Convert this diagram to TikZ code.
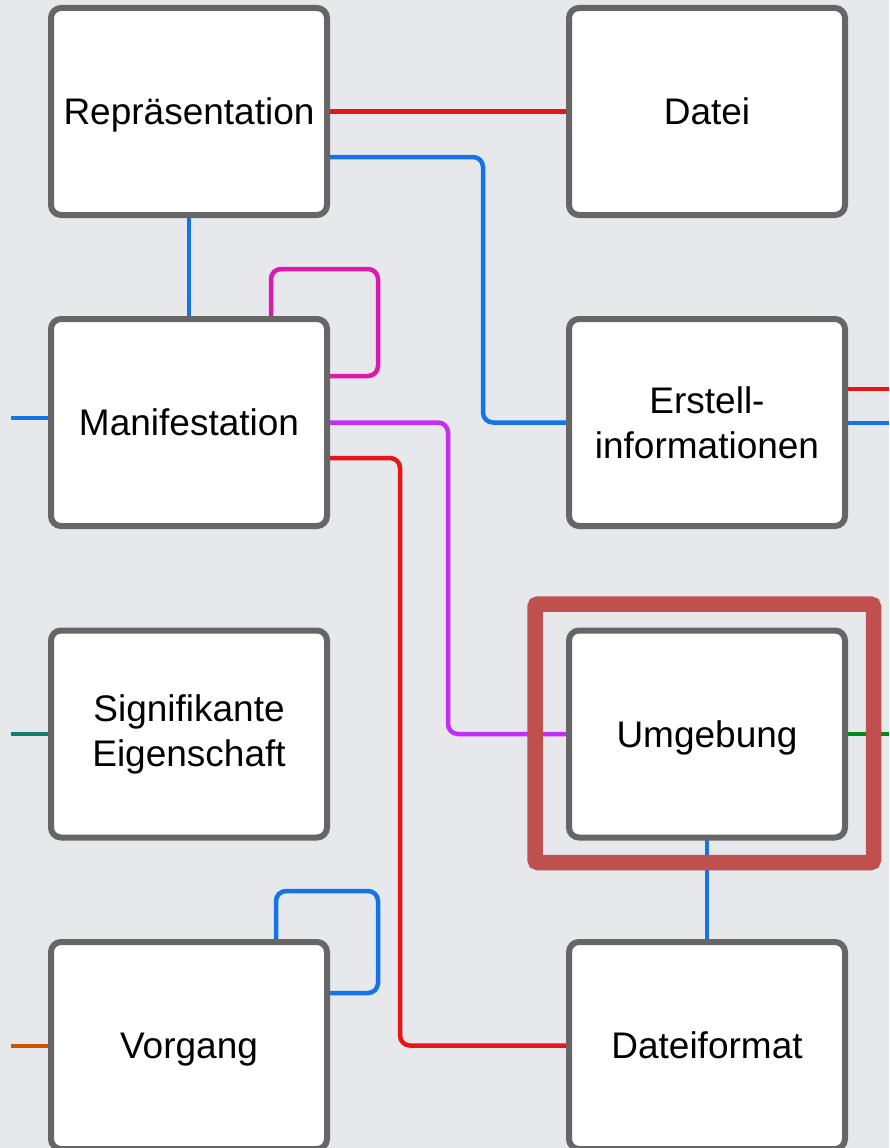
\documentclass[tikz,border=0pt]{standalone}
\usepackage{fontspec}
\setmainfont{Liberation Sans}
\usetikzlibrary{calc}
\definecolor{bgc}{RGB}{230,232,236}
\definecolor{boxgray}{RGB}{102,102,102}
\definecolor{cred}{RGB}{232,20,22}
\definecolor{cblue}{RGB}{20,115,230}
\definecolor{cmagenta}{RGB}{220,25,170}
\definecolor{cpurple}{RGB}{195,45,245}
\definecolor{cteal}{RGB}{15,128,110}
\definecolor{cgreen}{RGB}{0,140,20}
\definecolor{corange}{RGB}{200,85,0}
\definecolor{hlred}{RGB}{192,80,77}
\pgfdeclarelayer{bg}
\pgfdeclarelayer{edges}
\pgfsetlayers{bg,edges,main}
\begin{document}
\begin{tikzpicture}[x=1pt,y=-1pt,
  box/.style={draw=boxgray, fill=white, line width=6pt, rounded corners=10pt,
    minimum width=276pt, minimum height=207pt, inner sep=0pt, outer sep=0pt,
    align=center, font=\fontsize{37}{45}\selectfont},
  oneline/.style={text height=26pt, text depth=0pt},
  conn/.style={line width=4.5pt, rounded corners=10pt},
  hl/.style={draw=hlred, line width=15.5pt, rounded corners=3pt}]
\useasboundingbox (0,0) rectangle (889,1148);
\begin{pgfonlayer}{bg}
  \fill[bgc] (0,0) rectangle (889,1148);
\end{pgfonlayer}

\node[box, oneline] (rep)  at (189,111.5) {Repräsentation};
\node[box, oneline] (dat)  at (707,111.5) {Datei};
\node[box, oneline] (man)  at (189,422.5) {Manifestation};
\node[box] (erst) at (707,422.5) {Erstell-\\informationen};
\node[box] (sig)  at (189,734) {Signifikante\\Eigenschaft};
\node[box, oneline] (umg)  at (707,734) {Umgebung};
\node[box, oneline] (vor)  at (189,1045.5) {Vorgang};
\node[box, oneline] (dfmt) at (707,1045.5) {Dateiformat};

\coordinate (mL) at (11,418);
\coordinate (sL) at (11,734);
\coordinate (vL) at (11,1046);
\coordinate (eR1) at (889,389);
\coordinate (eR2) at (889,423);
\coordinate (uR) at (889,734);

\begin{pgfonlayer}{edges}
  \draw[conn, cred] (rep.east) -- (dat.west);
  \draw[conn, cblue] ([yshift=-45.5pt]rep.east) -- ++(156,0) |- (erst.west);
  \draw[conn, cblue] (rep.south) -- (man.north);
  \draw[conn, cmagenta] ([xshift=82pt]man.north) -- ++(0,-50) -- ++(107,0) |- ([yshift=46.5pt]man.east);
  \draw[conn, cpurple] (man.east) -- ++(121,0) |- (umg.west);
  \draw[conn, cred] ([yshift=-35.5pt]man.east) -- ++(73,0) |- (dfmt.west);
  \draw[conn, cblue] (umg.south) -- (dfmt.north);
  \draw[conn, cblue] ([xshift=87pt]vor.north) -- ++(0,-51) -- ++(102,0) |- ([yshift=52.5pt]vor.east);
  \draw[conn, cblue] (mL) -- (man.west |- mL);
  \draw[conn, cteal] (sL) -- (sig.west |- sL);
  \draw[conn, corange] (vL) -- (vor.west |- vL);
  \draw[conn, cred] (erst.east |- eR1) -- (eR1);
  \draw[conn, cblue] (erst.east |- eR2) -- (eR2);
  \draw[conn, cgreen] (umg.east |- uR) -- (uR);
\end{pgfonlayer}

\draw[hl] ($(umg.center)+(-172,-130)$) rectangle ($(umg.center)+(166.5,128.5)$);
\end{tikzpicture}
\end{document}
